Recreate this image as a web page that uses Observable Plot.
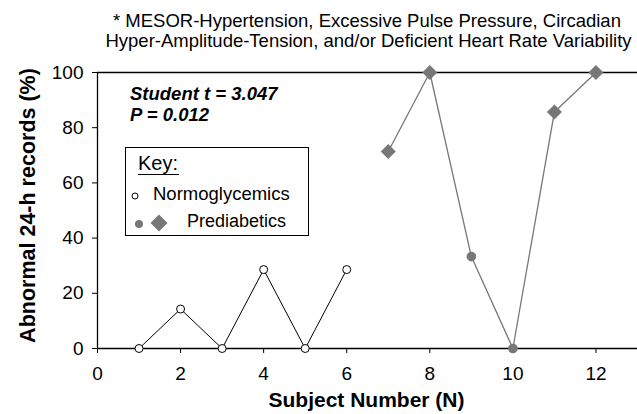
<!DOCTYPE html>
<html><head><meta charset="utf-8">
<script src="https://cdn.jsdelivr.net/npm/d3@7"></script>
<script src="https://cdn.jsdelivr.net/npm/@observablehq/plot@0.6"></script>
<style>
body{margin:0;background:#fff;font-family:"Liberation Sans",Arial,sans-serif;}
#wrap{position:relative;width:637px;height:414px;overflow:hidden;}
#wrap svg{position:absolute;left:0;top:0;}
</style></head><body>
<div id="wrap"></div>
<script>
const normX = [1, 2, 3, 4, 5, 6];
const normY = [0, 14.3, 0, 28.6, 0, 28.6];
const preX = [7, 8, 9, 10, 11, 12];
const preY = [71.4, 100, 33.3, 0, 85.7, 100];
const preShape = ["diamond", "diamond", "circle", "circle", "diamond", "diamond"];
const xTicks = [0, 2, 4, 6, 8, 10, 12];
const yTicks = [0, 20, 40, 60, 80, 100];
const titleLines = ["* MESOR-Hypertension, Excessive Pulse Pressure, Circadian", "Hyper-Amplitude-Tension, and/or Deficient Heart Rate Variability"];
const statLines = ["Student t = 3.047", "P = 0.012"];
const keyLabels = ["Key:", "Normoglycemics", "Prediabetics"];
const gray = "#777777";

const norm = normX.map((x, i) => ({x, y: normY[i]}));
const pre = preX.map((x, i) => ({x, y: preY[i], shape: preShape[i]}));

const plot = Plot.plot({
  width: 637, height: 414,
  marginTop: 72, marginBottom: 66, marginLeft: 97, marginRight: 0,
  x: {domain: [0, 13]},
  y: {domain: [0, 100]},
  style: {fontFamily: '"Liberation Sans", Arial, sans-serif', fontSize: "19px", color: "#000", background: "#fff"},
  marks: [
    Plot.axisX({ticks: xTicks, tickSize: 5, tickPadding: 13, label: null, fontSize: 19}),
    Plot.axisY({ticks: yTicks, tickSize: 5, tickPadding: 9, label: null, fontSize: 19}),
    Plot.ruleY([0, 100], {stroke: "#000", strokeWidth: 1.3}),
    Plot.ruleX([0], {y1: 0, y2: 100, stroke: "#000", strokeWidth: 1.3}),
    Plot.line(norm, {x: "x", y: "y", stroke: "#000", strokeWidth: 1}),
    Plot.line(pre, {x: "x", y: "y", stroke: gray, strokeWidth: 1.3}),
    Plot.dot(norm, {x: "x", y: "y", r: 4, fill: "#fff", stroke: "#000", strokeWidth: 1}),
    Plot.dot(pre.filter(d => d.shape === "circle"), {x: "x", y: "y", r: 4.8, fill: gray, stroke: "none"}),
    Plot.dot(pre.filter(d => d.shape === "diamond"), {x: "x", y: "y", symbol: "square", rotate: 45, r: 6, fill: gray, stroke: "none"})
  ]
});
const wrap = document.getElementById("wrap");
wrap.appendChild(plot);

const ns = "http://www.w3.org/2000/svg";
const ov = document.createElementNS(ns, "svg");
ov.setAttribute("width", 637); ov.setAttribute("height", 414);
ov.style.fontFamily = '"Liberation Sans", Arial, sans-serif';
wrap.appendChild(ov);
function el(tag, attrs, text) {
  const e = document.createElementNS(ns, tag);
  for (const k in attrs) e.setAttribute(k, attrs[k]);
  if (text != null) e.textContent = text;
  ov.appendChild(e);
  return e;
}
el("text", {x: 367, y: 27, "text-anchor": "middle", "font-size": 18.5}, titleLines[0]);
el("text", {x: 368.5, y: 47, "text-anchor": "middle", "font-size": 18.5}, titleLines[1]);
el("text", {transform: "translate(35,205.5) rotate(-90)", "text-anchor": "middle", "font-size": 21.5, "font-weight": "bold"}, "Abnormal 24-h records (%)");
el("text", {x: 366.5, y: 407, "text-anchor": "middle", "font-size": 21, "font-weight": "bold"}, "Subject Number (N)");
el("text", {x: 130, y: 100, "font-size": 18.5, "font-weight": "bold", "font-style": "italic"}, statLines[0]);
el("text", {x: 130, y: 121, "font-size": 18.5, "font-weight": "bold", "font-style": "italic"}, statLines[1]);
el("rect", {x: 125.5, y: 147.5, width: 183, height: 88, fill: "none", stroke: "#000", "stroke-width": 1});
el("text", {x: 138, y: 170, "font-size": 20}, keyLabels[0]);
el("line", {x1: 138, x2: 179, y1: 174.5, y2: 174.5, stroke: "#000", "stroke-width": 1});
el("circle", {cx: 135, cy: 196, r: 3, fill: "#fff", stroke: "#000", "stroke-width": 1});
el("text", {x: 153, y: 200, "font-size": 18.5}, keyLabels[1]);
el("circle", {cx: 139, cy: 224, r: 4, fill: gray});
el("rect", {x: 153, y: 217, width: 12, height: 12, fill: gray, transform: "rotate(45 159 223)"});
el("text", {x: 187, y: 227, "font-size": 18}, keyLabels[2]);
</script>
</body></html>
